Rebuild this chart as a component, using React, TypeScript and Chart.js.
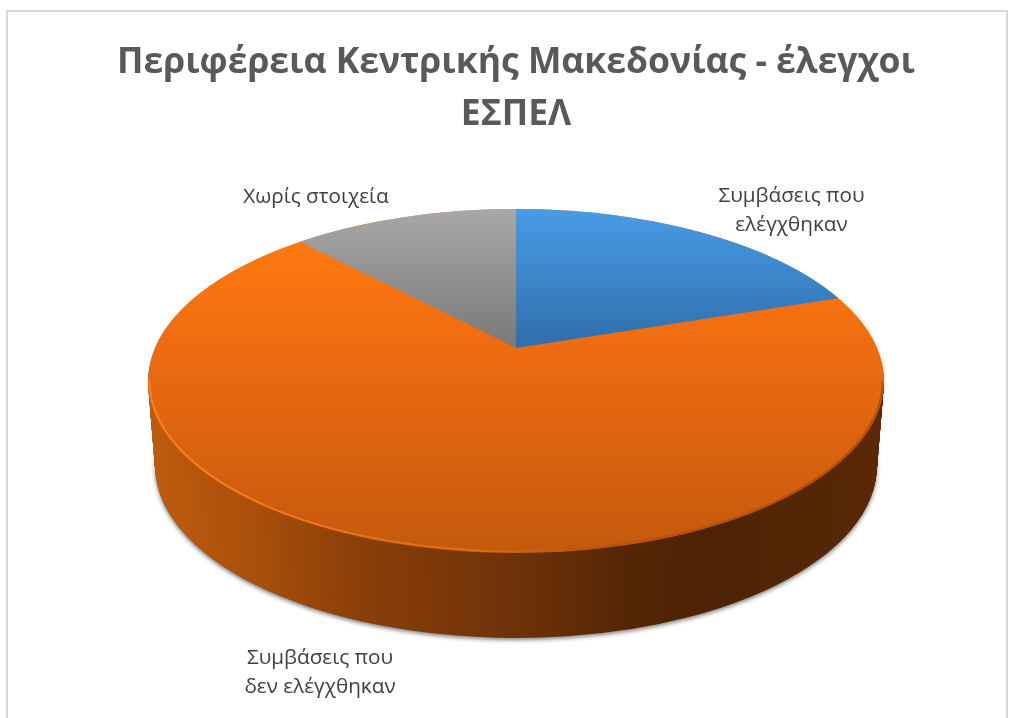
import React, { useEffect, useRef } from "react";
import { Chart, registerables } from "chart.js";

Chart.register(...registerables);

const categories = ["Συμβάσεις που ελέγχθηκαν", "Συμβάσεις που δεν ελέγχθηκαν", "Χωρίς στοιχεία"];
const shares = [17, 73, 10];
const titleLines = ["Περιφέρεια Κεντρικής Μακεδονίας - έλεγχοι", "ΕΣΠΕΛ"];
const sliceLabelLines = [["Συμβάσεις που", "ελέγχθηκαν"], ["Συμβάσεις που", "δεν ελέγχθηκαν"], ["Χωρίς στοιχεία"]];

// Placement of the tilted disc on the page
const DISC = { cx: 516, cy: 381, rx: 368, ry: 172, depth: 85, taper: 7, apexLift: 33 };
const LABEL_POS = [
  { x: 791.5, y: 196 },
  { x: 320, y: 658 },
  { x: 316, y: 197 },
];
const LABEL_LINE_HEIGHT = 29;
const FONT = '"Open Sans", "Noto Sans", sans-serif';

const faceStops: [number, string][][] = [
  [[209, "#489ce6"], [348, "#2f6eab"]],
  [[230, "#ff7a12"], [348, "#ee6c10"], [553, "#c4590c"]],
  [[209, "#a8a8a8"], [348, "#797979"]],
];
const wallStops: [number, string][] = [
  [147, "#bf5c0c"],
  [250, "#aa500a"],
  [350, "#8c4008"],
  [516, "#6e3208"],
  [640, "#522505"],
  [720, "#4d2304"],
  [880, "#592806"],
];

const pie3d = {
  id: "pie3d",
  beforeDatasetsDraw(chart: any) {
    const ctx: CanvasRenderingContext2D = chart.ctx;
    const arcs = chart.getDatasetMeta(0).data as any[];
    const { cx, cy, rx, ry, depth, taper, apexLift } = DISC;
    const R = arcs[0].outerRadius;
    const ax = arcs[0].x;
    const ay = arcs[0].y;

    const place = (cyT: number, rxT: number, fn: () => void) => {
      ctx.save();
      ctx.translate(cx, cyT);
      ctx.scale(rxT / R, ry / R);
      ctx.translate(-ax, -ay);
      fn();
      ctx.restore();
    };
    const localY = (py: number) => ay + (py - cy) / (ry / R);
    const localX = (px: number) => ax + (px - cx) / (rx / R);
    const vertical = (stops: [number, string][]) => {
      const y0 = stops[0][0];
      const y1 = stops[stops.length - 1][0];
      const g = ctx.createLinearGradient(0, localY(y0), 0, localY(y1));
      stops.forEach(([p, c]) => g.addColorStop((p - y0) / (y1 - y0), c));
      return g;
    };
    const drawArc = (arc: any, fill: any) => {
      const saved = arc.options;
      arc.options = { ...saved, backgroundColor: fill, borderWidth: 0 };
      arc.draw(ctx);
      arc.options = saved;
    };

    // Side wall: the largest slice repeated downward
    const big = arcs[1];
    const x0 = wallStops[0][0];
    const x1 = wallStops[wallStops.length - 1][0];
    const wall = ctx.createLinearGradient(localX(x0), 0, localX(x1), 0);
    wallStops.forEach(([p, c]) => wall.addColorStop((p - x0) / (x1 - x0), c));
    for (let d = depth; d >= 1; d--) {
      const t = d / depth;
      ctx.save();
      if (d === depth) {
        ctx.shadowColor = "rgba(0,0,0,0.5)";
        ctx.shadowBlur = 4;
        ctx.shadowOffsetY = 2;
      }
      place(cy + d, rx - taper * t, () => drawArc(big, wall));
      ctx.restore();
    }

    // Top face: the big slice's colour fills the whole disc
    const bigFill = vertical(faceStops[1]);
    place(cy, rx, () => {
      ctx.beginPath();
      ctx.arc(ax, ay, R, 0, Math.PI * 2);
      ctx.fillStyle = bigFill;
      ctx.fill();
    });

    // Smaller slices converge on the raised apex of the tilted disc
    const apex = { x: cx, y: cy - apexLift };
    arcs.forEach((arc, i) => {
      if (i === 1) return;
      const rim = (a: number) => ({ x: cx + rx * Math.cos(a), y: cy + ry * Math.sin(a) });
      const far = (p: { x: number; y: number }) => ({
        x: apex.x + 4 * (p.x - apex.x),
        y: apex.y + 4 * (p.y - apex.y),
      });
      const a = far(rim(arc.startAngle));
      const b = far(rim(arc.endAngle));
      ctx.save();
      ctx.beginPath();
      ctx.moveTo(apex.x, apex.y);
      ctx.lineTo(a.x, a.y);
      ctx.lineTo(b.x, b.y);
      ctx.closePath();
      ctx.clip();
      const fill = vertical(faceStops[i]);
      place(cy, rx, () => drawArc(arc, fill));
      ctx.restore();
    });

    // Bevel along the front rim
    const bevel = ctx.createLinearGradient(cx - rx, 0, cx + rx, 0);
    bevel.addColorStop(0, "rgba(255,135,35,0.8)");
    bevel.addColorStop(0.45, "rgba(255,130,30,0.45)");
    bevel.addColorStop(0.62, "rgba(150,70,10,0.3)");
    bevel.addColorStop(1, "rgba(140,65,10,0.6)");
    ctx.save();
    ctx.beginPath();
    ctx.ellipse(cx, cy, rx - 1.5, ry - 1.5, 0, 0, Math.PI);
    ctx.strokeStyle = bevel;
    ctx.lineWidth = 2;
    ctx.stroke();
    ctx.restore();

    return false;
  },
  afterDraw(chart: any) {
    const ctx: CanvasRenderingContext2D = chart.ctx;
    ctx.save();
    ctx.font = `20.7px ${FONT}`;
    ctx.fillStyle = "#404040";
    ctx.textAlign = "center";
    ctx.textBaseline = "middle";
    sliceLabelLines.forEach((lines, i) => {
      lines.forEach((line, j) => {
        ctx.fillText(line, LABEL_POS[i].x, LABEL_POS[i].y + j * LABEL_LINE_HEIGHT);
      });
    });
    ctx.restore();
  },
};

export default function App() {
  const ref = useRef<HTMLCanvasElement>(null);
  useEffect(() => {
    document.body.style.margin = "0";
    const chart = new Chart(ref.current as HTMLCanvasElement, {
      type: "pie",
      data: {
        labels: categories,
        datasets: [
          {
            data: shares,
            backgroundColor: ["#3d85c9", "#e0660f", "#8f8f8f"],
            borderWidth: 0,
          },
        ],
      },
      options: {
        responsive: false,
        animation: false,
        layout: { padding: { left: 21 } },
        plugins: {
          legend: { display: false },
          tooltip: { enabled: false },
          title: {
            display: true,
            fullSize: false,
            text: titleLines,
            color: "#595959",
            font: { family: FONT, size: 35.5, weight: "bold", lineHeight: 1.49 },
            padding: { top: 36, bottom: 20 },
          },
        },
      },
      plugins: [pie3d],
    } as any);
    return () => chart.destroy();
  }, []);
  return (
    <div style={{ position: "fixed", left: 0, top: 0, width: 1011, height: 718, overflow: "hidden", background: "#fff" }}>
      <div
        style={{
          position: "absolute",
          left: 6,
          top: 10,
          width: 998,
          height: 740,
          border: "2px solid #d9d9d9",
        }}
      />
      <canvas ref={ref} width={1011} height={718} style={{ position: "absolute", left: 0, top: 0, display: "block" }} />
    </div>
  );
}
